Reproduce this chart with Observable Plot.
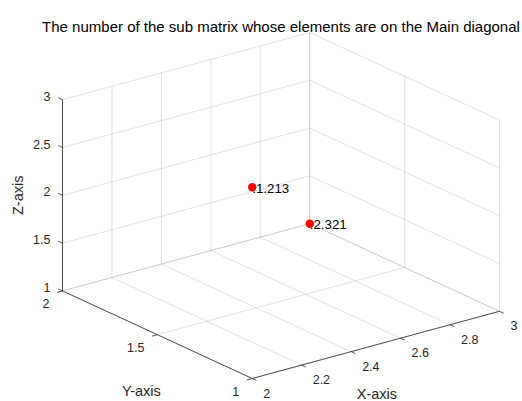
<!DOCTYPE html>
<html><head><meta charset="utf-8">
<script src="https://cdn.jsdelivr.net/npm/d3@7"></script>
<script src="https://cdn.jsdelivr.net/npm/@observablehq/plot@0.6"></script>
<style>body{margin:0;background:#fff}#chart svg{display:block}</style>
</head><body><div id="chart"></div>
<script>
const titleText = "The number of the sub matrix whose elements are on the Main diagonal";
const xLabel = "X-axis", yLabel = "Y-axis", zLabel = "Z-axis";
const xLim = [2, 3], yLim = [1, 2], zLim = [1, 3];
const xTicks = [2, 2.2, 2.4, 2.6, 2.8, 3];
const yTicks = [1, 1.5, 2];
const zTicks = [1, 1.5, 2, 2.5, 3];
const xTickLabels = ["2", "2.2", "2.4", "2.6", "2.8", "3"];
const yTickLabels = ["1", "1.5", "2"];
const zTickLabels = ["1", "1.5", "2", "2.5", "3"];
const pointX = [2, 3];
const pointY = [1, 2];
const pointZ = [3, 1];
const pointLabels = ["1.213", "2.321"];
const viewAz = -37.5, viewEl = 30;

// MATLAB-style orthographic view of the unit plot box
const az = viewAz * Math.PI / 180, el = viewEl * Math.PI / 180;
function proj(x, y, z) {
  const u = (x - xLim[0]) / (xLim[1] - xLim[0]);
  const v = (y - yLim[0]) / (yLim[1] - yLim[0]);
  const w = (z - zLim[0]) / (zLim[1] - zLim[0]);
  return [Math.cos(az) * u + Math.sin(az) * v,
          -Math.sin(el) * Math.sin(az) * u + Math.sin(el) * Math.cos(az) * v + Math.cos(el) * w];
}
const corners = [];
for (const x of xLim) for (const y of yLim) for (const z of zLim) corners.push(proj(x, y, z));
const sxDomain = d3.extent(corners, c => c[0]);
const syDomain = d3.extent(corners, c => c[1]);

function seg(a, b) {
  const p = proj(...a), q = proj(...b);
  return {x1: p[0], y1: p[1], x2: q[0], y2: q[1]};
}
const [x0, x1] = xLim, [y0, y1] = yLim, [z0, z1] = zLim;
const grid = [];
for (const x of xTicks) grid.push(seg([x, y0, z0], [x, y1, z0]));
for (const y of yTicks) grid.push(seg([x0, y, z0], [x1, y, z0]));
for (const x of xTicks) grid.push(seg([x, y1, z0], [x, y1, z1]));
for (const z of zTicks) grid.push(seg([x0, y1, z], [x1, y1, z]));
for (const y of yTicks) grid.push(seg([x1, y, z0], [x1, y, z1]));
for (const z of zTicks) grid.push(seg([x1, y0, z], [x1, y1, z]));

const axes = [
  seg([x0, y1, z0], [x0, y1, z1]),
  seg([x0, y0, z0], [x0, y1, z0]),
  seg([x0, y0, z0], [x1, y0, z0])
];
const tl = 0.022;
const ticks = [];
for (const z of zTicks) ticks.push(seg([x0, y1, z], [x0, y1 + tl * (y1 - y0), z]));
for (const y of yTicks) ticks.push(seg([x0, y, z0], [x0 - tl * (x1 - x0), y, z0]));
for (const x of xTicks) ticks.push(seg([x, y0, z0], [x, y0 - tl * (y1 - y0), z0]));

const pt = (p, label) => ({sx: p[0], sy: p[1], label});
const zLab = zTicks.map((z, i) => pt(proj(x0, y1, z), zTickLabels[i]));
const yLab = yTicks.map((y, i) => pt(proj(x0, y, z0), yTickLabels[i]));
const xLab = xTicks.map((x, i) => pt(proj(x, y0, z0), xTickLabels[i]));
const points = pointX.map((x, i) => pt(proj(x, pointY[i], pointZ[i]), pointLabels[i]));
const zMid = pt(proj(x0, y1, (z0 + z1) / 2), zLabel);
const yMid = pt(proj(x0, (y0 + y1) / 2, z0), yLabel);
const xMid = pt(proj((x0 + x1) / 2, y0, z0), xLabel);

const ink = "#262626";
const chart = Plot.plot({
  width: 522, height: 401,
  marginLeft: 62, marginRight: 23, marginTop: 32, marginBottom: 23,
  x: {domain: sxDomain, axis: null},
  y: {domain: syDomain, axis: null},
  style: {fontFamily: "'Liberation Sans', Arial, Helvetica, sans-serif", background: "#fff", overflow: "visible"},
  marks: [
    Plot.link(grid, {x1: "x1", y1: "y1", x2: "x2", y2: "y2", stroke: ink, strokeOpacity: 0.17, strokeWidth: 0.8}),
    Plot.link(axes, {x1: "x1", y1: "y1", x2: "x2", y2: "y2", stroke: ink, strokeWidth: 0.8}),
    Plot.link(ticks, {x1: "x1", y1: "y1", x2: "x2", y2: "y2", stroke: ink, strokeWidth: 0.8}),
    Plot.text(zLab, {x: "sx", y: "sy", text: "label", textAnchor: "end", dx: -12, dy: -3, fontSize: 12.5, fill: ink}),
    Plot.text(yLab, {x: "sx", y: "sy", text: "label", textAnchor: "end", dx: -13, dy: 13, fontSize: 12.5, fill: ink}),
    Plot.text(xLab, {x: "sx", y: "sy", text: "label", textAnchor: "start", dx: 11, dy: 15, fontSize: 12.5, fill: ink}),
    Plot.text([zMid], {x: "sx", y: "sy", text: "label", rotate: -90, dx: -44, fontSize: 14.5, fill: ink}),
    Plot.text([yMid], {x: "sx", y: "sy", text: "label", dx: -16, dy: 57, fontSize: 14.5, fill: ink}),
    Plot.text([xMid], {x: "sx", y: "sy", text: "label", dx: 1, dy: 49, fontSize: 14.5, fill: ink}),
    Plot.text([titleText], {frameAnchor: "top", dy: -11, fontSize: 15, fill: "#000"}),
    Plot.text(points, {x: "sx", y: "sy", text: d => "." + d.label, textAnchor: "start", dy: 1, fontSize: 13.3, fill: "#000"}),
    Plot.dot(points, {x: "sx", y: "sy", r: 4.2, fill: "#ff0000", stroke: "none"})
  ]
});
document.getElementById("chart").appendChild(chart);
</script>
</body></html>
